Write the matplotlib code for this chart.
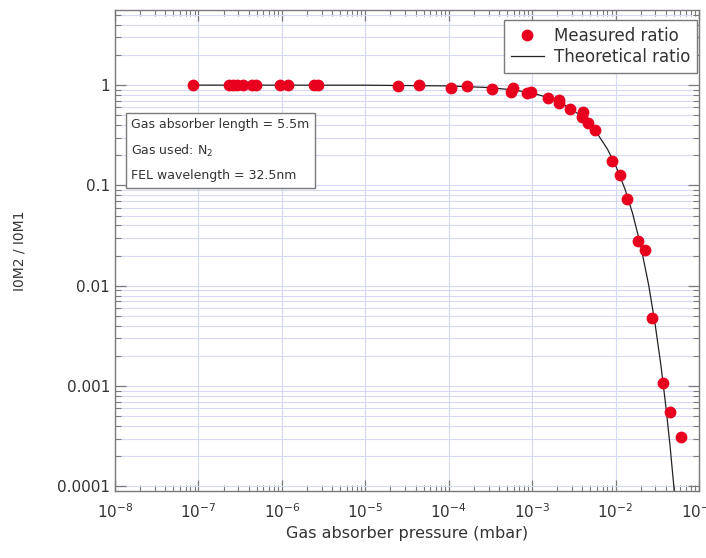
import matplotlib
matplotlib.use("Agg")
import matplotlib.pyplot as plt
import matplotlib.ticker as mticker
import numpy as np

# measured transmission through the gas absorber
pressure = [8.5e-8, 2.3e-7, 2.6e-7, 2.9e-7, 3.4e-7, 4.4e-7, 4.9e-7, 9.4e-7, 1.19e-6,
            2.43e-6, 2.7e-6, 2.45e-5, 4.35e-5, 1.06e-4, 1.66e-4, 3.33e-4, 5.53e-4,
            5.85e-4, 8.6e-4, 9.6e-4, 1.53e-3, 2.08e-3, 2.1e-3, 2.87e-3, 4.08e-3,
            3.96e-3, 4.64e-3, 5.64e-3, 9.1e-3, 1.13e-2, 1.36e-2, 1.88e-2, 2.25e-2,
            2.75e-2, 3.7e-2, 4.45e-2, 6.03e-2]
ratio = [1.0, 1.0, 1.0, 1.0, 1.0, 1.0, 1.0, 1.0, 1.0,
         1.0, 1.0, 0.98, 1.0, 0.94, 0.98, 0.906, 0.859,
         0.94, 0.827, 0.846, 0.75, 0.71, 0.658, 0.578, 0.545,
         0.479, 0.424, 0.358, 0.177, 0.126, 0.0738, 0.0277, 0.0227,
         4.8e-3, 1.08e-3, 5.5e-4, 3.1e-4]

# theoretical transmission curve
theo_pressure = [8.5e-8, 1e-5, 1e-4, 3e-4, 6e-4, 1e-3, 1.5e-3, 2e-3, 3e-3, 4e-3,
                 5e-3, 6e-3, 8e-3, 1e-2, 1.3e-2, 1.6e-2, 2e-2, 2.5e-2, 3e-2,
                 3.5e-2, 4e-2, 4.5e-2, 5.06e-2]
theo_ratio = [1.0, 0.998, 0.982, 0.946, 0.895, 0.832, 0.759, 0.692, 0.576, 0.479,
              0.399, 0.332, 0.230, 0.159, 0.0917, 0.0528, 0.0253, 0.0101, 0.00401,
              0.00161, 0.00064, 0.000256, 0.00009]

yticks = [1e-4, 1e-3, 1e-2, 1e-1, 1]
ytick_labels = ["0.0001", "0.001", "0.01", "0.1", "1"]

fig = plt.figure(figsize=(7.06, 5.58), dpi=100)
ax = fig.add_axes([0.163, 0.12, 0.827, 0.862])

grid_col = "#d6d9f4"
spine_col = "#7a7a7a"
text_col = "#333333"

ax.plot(theo_pressure, theo_ratio, color="#222222", lw=0.9, zorder=3,
        label="Theoretical ratio")
ax.plot(pressure, ratio, "o", color="#e8001e", markersize=8.5, markeredgewidth=0,
        zorder=4, label="Measured ratio")

ax.set_xscale("log")
ax.set_yscale("log")
ax.set_xlim(1e-8, 1e-1)
ax.set_ylim(9e-5, 5.6)

ax.xaxis.set_major_locator(mticker.LogLocator(base=10, numticks=20))
ax.xaxis.set_minor_locator(mticker.LogLocator(base=10, subs=np.arange(2, 10), numticks=20))
ax.yaxis.set_major_locator(mticker.FixedLocator(yticks))
ax.yaxis.set_major_formatter(mticker.FixedFormatter(ytick_labels))
ax.yaxis.set_minor_locator(mticker.LogLocator(base=10, subs=np.arange(2, 10), numticks=20))
ax.yaxis.set_minor_formatter(mticker.NullFormatter())

ax.grid(True, which="major", axis="both", color=grid_col, lw=0.8, zorder=0)
ax.grid(True, which="minor", axis="y", color=grid_col, lw=0.8, zorder=0)

for s in ax.spines.values():
    s.set_color(spine_col)
    s.set_linewidth(1.0)

ax.tick_params(which="both", direction="in", top=True, right=True, colors=spine_col,
               labelcolor=text_col, labelsize=11)
ax.tick_params(which="major", length=8, width=0.9)
ax.tick_params(which="minor", length=4.5, width=0.8)
ax.tick_params(axis="x", pad=8)

ax.set_xlabel("Gas absorber pressure (mbar)", fontsize=11.5, color=text_col, labelpad=4)
ax.set_ylabel("I0M2 / I0M1", fontsize=10, color=text_col, labelpad=22)

handles, labels = ax.get_legend_handles_labels()
leg = ax.legend(handles[::-1], labels[::-1], loc="upper right",
                bbox_to_anchor=(0.997, 0.979), borderaxespad=0, fontsize=12,
                fancybox=False, framealpha=1, edgecolor=spine_col,
                handlelength=2.0, borderpad=0.4, labelspacing=0.2,
                handletextpad=0.6)
leg.get_frame().set_linewidth(1.0)
for t in leg.get_texts():
    t.set_color(text_col)

ax.text(0.028, 0.775,
        "Gas absorber length = 5.5m\nGas used: N$_2$\nFEL wavelength = 32.5nm",
        transform=ax.transAxes, fontsize=9.0, color=text_col, va="top", ha="left",
        linespacing=2.0, zorder=5,
        bbox=dict(boxstyle="square,pad=0.45", facecolor="white", edgecolor=spine_col,
                  linewidth=1.0))

fig.savefig("out.png", dpi=100)
